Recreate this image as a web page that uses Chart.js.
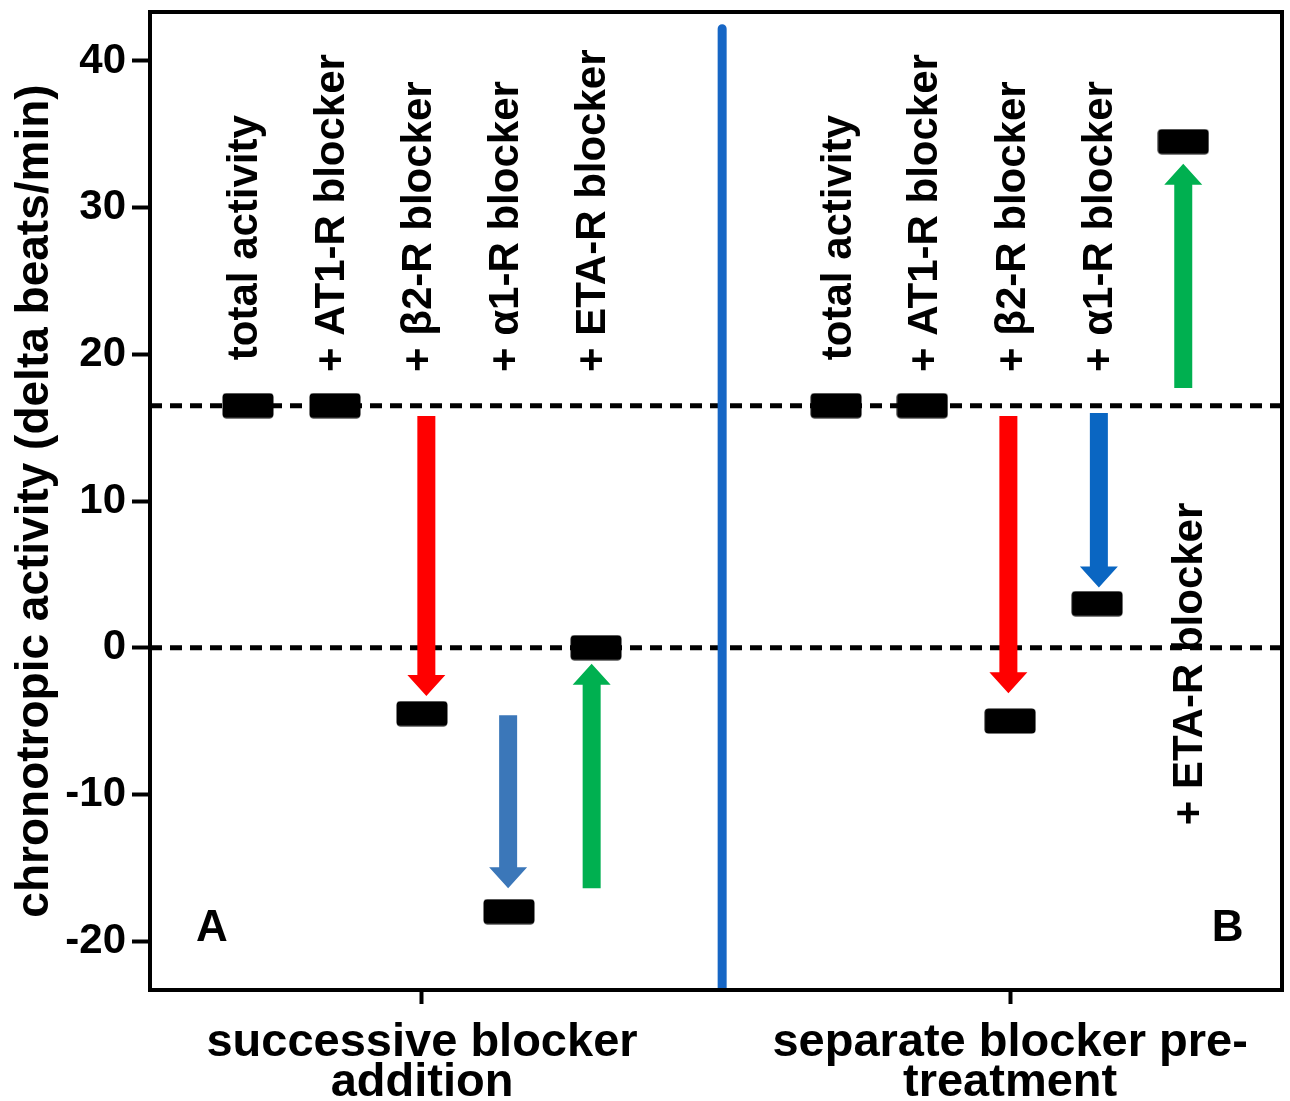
<!DOCTYPE html>
<html>
<head>
<meta charset="utf-8">
<script src="https://cdn.jsdelivr.net/npm/chart.js@4.4.1/dist/chart.umd.min.js"></script>
<style>
  html, body { margin: 0; padding: 0; background: #ffffff; }
  canvas { display: block; }
</style>
</head>
<body>
<canvas id="chart" width="1290" height="1101"></canvas>
<script>
// ---- data ----
const categoriesA = ['total activity', '+ AT1-R blocker', '+ \u03B22-R blocker', '+ \u03B11-R blocker', '+ ETA-R blocker'];
const categoriesB = ['total activity', '+ AT1-R blocker', '+ \u03B22-R blocker', '+ \u03B11-R blocker', '+ ETA-R blocker'];
const positionsA = [1, 2, 3, 4, 5];
const positionsB = [7.76, 8.75, 9.76, 10.76, 11.75];
const valuesA = [16.5, 16.5, -4.5, -18, 0];
const valuesB = [16.5, 16.5, -5, 3, 34.5];

// arrows: x position, start value, end value
const arrowX    = [3.05, 3.99, 4.95, 9.74, 10.78, 11.75];
const arrowFrom = [15.8, -4.6, -16.4, 15.8, 16.0, 17.7];
const arrowTo   = [-3.3, -16.4, -1.1, -3.1, 4.1, 33.0];

const referenceLevels = [16.5, 0];
const dividerX = 6.45;
const yTicks = [-20, -10, 0, 10, 20, 30, 40];
const yTickLabels = ['-20', '-10', '0', '10', '20', '30', '40'];
const groupPositions = [3, 9.76];
const groupLabels = [['successive blocker', 'addition'], ['separate blocker pre-', 'treatment']];
const panelLetters = ['A', 'B'];
const yTitle = 'chronotropic activity (delta beats/min)';

// ---- styling ----
const X_MIN = -0.1264, X_MAX = 12.885;
const Y_MIN = -23.34, Y_MAX = 43.34;
const FONT = '"Liberation Sans", Arial, Helvetica, sans-serif';
const arrowColors = ['#ff0000', '#3b77b9', '#00b050', '#ff0000', '#0a66c2', '#00b050'];

// rounded black block used as the point marker
function makeBlock(w, h, r) {
  const c = document.createElement('canvas');
  c.width = w; c.height = h;
  const g = c.getContext('2d');
  g.fillStyle = '#000';
  g.beginPath();
  g.roundRect(0.5, 0.5, w - 1, h - 1, r);
  g.fill();
  return c;
}
const block = makeBlock(52, 26, 4);

function drawArrow(ctx, px, y0, y1, color) {
  const dir = Math.sign(y1 - y0);
  const headLen = 21, shaftW = 18, headW = 38;
  const yb = y1 - dir * headLen;
  ctx.save();
  ctx.fillStyle = color;
  ctx.beginPath();
  ctx.moveTo(px - shaftW / 2, y0);
  ctx.lineTo(px + shaftW / 2, y0);
  ctx.lineTo(px + shaftW / 2, yb);
  ctx.lineTo(px + headW / 2, yb);
  ctx.lineTo(px, y1);
  ctx.lineTo(px - headW / 2, yb);
  ctx.lineTo(px - shaftW / 2, yb);
  ctx.closePath();
  ctx.fill();
  ctx.restore();
}

function drawText(ctx, text, x, y, opts) {
  ctx.save();
  ctx.translate(x, y);
  if (opts.rotate) ctx.rotate(opts.rotate);
  ctx.scale(opts.stretch || 1, 1);
  ctx.font = opts.font;
  ctx.fillStyle = '#000';
  ctx.textAlign = opts.align || 'left';
  ctx.textBaseline = opts.baseline || 'middle';
  ctx.fillText(text, 0, 0);
  ctx.restore();
}

const overlay = {
  id: 'overlay',
  afterDatasetsDraw(chart) {
    const { ctx, scales: { x, y } } = chart;
    arrowX.forEach((xv, i) => {
      drawArrow(ctx, x.getPixelForValue(xv), y.getPixelForValue(arrowFrom[i]),
                y.getPixelForValue(arrowTo[i]), arrowColors[i]);
    });
  },
  afterDraw(chart) {
    const { ctx, chartArea: a, scales: { x, y } } = chart;
    // frame
    ctx.save();
    ctx.strokeStyle = '#000';
    ctx.lineWidth = 4;
    ctx.strokeRect(a.left, a.top, a.right - a.left, a.bottom - a.top);
    ctx.restore();

    // vertical treatment labels
    const labelFont = '700 42px ' + FONT;
    const rot = -Math.PI / 2;
    categoriesA.forEach((t, i) => {
      const start = i === 0 ? 19.6 : 18.8;
      drawText(ctx, t, x.getPixelForValue(positionsA[i]) - 3, y.getPixelForValue(start),
               { rotate: rot, font: labelFont });
    });
    categoriesB.forEach((t, i) => {
      let px = x.getPixelForValue(positionsB[i]) + 3;
      let start = i === 0 ? 19.6 : 18.8;
      if (i === 4) { px = x.getPixelForValue(11.83); start = -12.1; }
      drawText(ctx, t, px, y.getPixelForValue(start), { rotate: rot, font: labelFont });
    });

    // axis title
    drawText(ctx, yTitle, 35, (a.top + a.bottom) / 2,
             { rotate: rot, font: '700 46px ' + FONT, align: 'center' });

    // panel letters
    const letterX = [0.586, 12.26];
    panelLetters.forEach((t, i) => {
      drawText(ctx, t, x.getPixelForValue(letterX[i]), y.getPixelForValue(-19.2),
               { font: '700 44px ' + FONT, align: 'center' });
    });

    // group labels under the axis
    groupLabels.forEach((lines, i) => {
      const px = x.getPixelForValue(groupPositions[i]);
      lines.forEach((ln, j) => {
        drawText(ctx, ln, px, 1056 + j * 40,
                 { font: '700 47px ' + FONT, align: 'center', baseline: 'alphabetic' });
      });
    });
  }
};

const markerStyle = { pointStyle: block, pointRadius: 26, pointHoverRadius: 26, showLine: false };

new Chart(document.getElementById('chart'), {
  type: 'scatter',
  data: {
    datasets: [
      Object.assign({ label: 'successive', data: positionsA.map((p, i) => ({ x: p, y: valuesA[i] })), order: 0 }, markerStyle),
      Object.assign({ label: 'separate', data: positionsB.map((p, i) => ({ x: p, y: valuesB[i] })), order: 0 }, markerStyle),
      {
        label: 'divider', type: 'line', order: 1,
        data: [{ x: dividerX, y: 42.2 }, { x: dividerX, y: -23.2 }],
        borderColor: '#1666c5', borderWidth: 9, borderCapStyle: 'round', pointRadius: 0
      },
      ...referenceLevels.map(v => ({
        label: 'ref', type: 'line', order: 2,
        data: [{ x: X_MIN, y: v }, { x: X_MAX, y: v }],
        borderColor: '#000', borderWidth: 5, borderDash: [12, 8], pointRadius: 0
      }))
    ]
  },
  options: {
    responsive: false,
    animation: false,
    devicePixelRatio: 1,
    layout: { autoPadding: false, padding: { top: 12, right: 8, left: 0, bottom: 0 } },
    plugins: { legend: { display: false }, tooltip: { enabled: false } },
    scales: {
      x: {
        type: 'linear', min: X_MIN, max: X_MAX,
        afterBuildTicks: s => { s.ticks = groupPositions.map(v => ({ value: v })); },
        afterFit: s => { s.height = 111; s.paddingLeft = 0; s.paddingRight = 0; },
        ticks: { callback: () => '', font: { size: 10 } },
        grid: { drawOnChartArea: false, drawTicks: true, tickLength: 14, tickWidth: 4, tickColor: '#000' },
        border: { display: false }
      },
      y: {
        type: 'linear', min: Y_MIN, max: Y_MAX,
        afterBuildTicks: s => { s.ticks = yTicks.map(v => ({ value: v })); },
        afterFit: s => { s.width = 150; s.paddingTop = 0; s.paddingBottom = 0; },
        ticks: {
          callback: (v, i) => yTickLabels[i],
          color: '#000', padding: 6,
          font: { family: FONT, weight: 'bold', size: 42 }
        },
        grid: { drawOnChartArea: false, drawTicks: true, tickLength: 18, tickWidth: 4, tickColor: '#000' },
        border: { display: false }
      }
    }
  },
  plugins: [overlay]
});
</script>
</body>
</html>
